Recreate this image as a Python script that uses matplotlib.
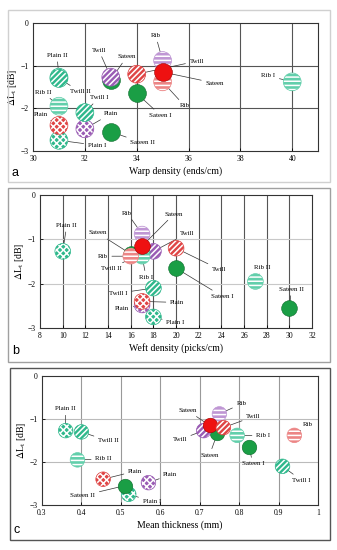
import matplotlib
matplotlib.use("Agg")
import matplotlib.pyplot as plt
from matplotlib.patches import Rectangle

plt.rcParams['font.family'] = ['Liberation Serif', 'DejaVu Serif']
plt.rcParams['mathtext.fontset'] = 'stix'
plt.rcParams['hatch.color'] = 'white'
plt.rcParams['hatch.linewidth'] = 1.1

# 16 fabrics: 8 teal/green, 4 red, 4 purple
names = ['Plain I', 'Plain II', 'Twill I', 'Twill II', 'Rib I', 'Rib II', 'Sateen I', 'Sateen II',
         'Plain', 'Twill', 'Rib', 'Sateen',
         'Plain', 'Twill', 'Rib', 'Sateen']
group = ['teal'] * 8 + ['red'] * 4 + ['purple'] * 4
weave = ['Plain', 'Plain', 'Twill', 'Twill', 'Rib', 'Rib', 'Sateen', 'Sateen',
         'Plain', 'Twill', 'Rib', 'Sateen',
         'Plain', 'Twill', 'Rib', 'Sateen']
delta_l = [-2.75, -1.27, -2.1, -1.3, -1.38, -1.95, -1.65, -2.55,
           -2.4, -1.2, -1.38, -1.15,
           -2.48, -1.27, -0.88, -1.33]
warp = [31, 31, 32, 31, 40, 31, 34, 33,
        31, 34, 35, 35,
        32, 33, 35, 33]
weft = [18, 10, 18, 17, 17, 27, 20, 30,
        17, 20, 16, 17,
        17, 18, 17, 16]
thickness = [0.52, 0.36, 0.91, 0.40, 0.795, 0.39, 0.825, 0.51,
             0.455, 0.76, 0.94, 0.725,
             0.57, 0.71, 0.75, 0.745]

# drawing order (back to front)
order = [12, 15, 14, 13, 1, 3, 5, 4, 2, 0, 6, 7, 8, 10, 11, 9]

colors = {'teal': '#2fb88c', 'red': '#df4545', 'purple': '#9a5cb4'}
rib_colors = {'teal': '#62cfab', 'red': '#ec8585', 'purple': '#bf96d4'}
hatches = {'Plain': 'xxxxx', 'Twill': '//////', 'Rib': '----'}

# label offsets in pixels (dx, dy up), per panel, by fabric index
offs_a = {1: (-2, 22), 3: (21, -13), 5: (-16, 14), 2: (14, 15), 8: (-18, 11), 12: (26, 15),
          0: (38, -5), 7: (32, -11), 6: (24, -22), 13: (-12, 27), 15: (16, 23), 14: (-7, 25),
          9: (60, 13), 11: (52, -11), 10: (22, -24), 4: (-24, 6)}
offs_b = {1: (4, 26), 14: (-15, 21), 11: (32, 32), 15: (-33, 21), 13: (34, 18), 10: (-28, 0),
          3: (-31, -16), 4: (4, -21), 9: (43, -21), 6: (46, -28), 5: (7, 14), 7: (2, 19),
          2: (-35, -5), 8: (35, -1), 12: (-20, -4), 0: (22, -6)}
offs_c = {1: (0, 22), 3: (27, -9), 5: (26, 1), 8: (32, 8), 7: (-42, -10), 0: (23, -7),
          12: (22, 8), 14: (22, 10), 11: (-22, 15), 9: (30, 11), 13: (-24, -9),
          15: (-8, -22), 4: (26, 0), 6: (4, -17), 10: (14, 11), 2: (19, -14)}

fig = plt.figure(figsize=(3.37, 5.5), dpi=100)

panels = [
    dict(x=warp, pos=[0.098, 0.7255, 0.846, 0.2327], xlim=(30, 41), xticks=range(30, 41, 2),
         xlabel='Warp density (ends/cm)', letter='a', s=165, offs=offs_a,
         box=[0.024, 0.669, 0.955, 0.3127], lab=(0.035, 0.675), vcol='#555555', hcol='#555555',
         boxcol='#d0d0d0', fmt=lambda v: '%d' % v),
    dict(x=weft, pos=[0.119, 0.4036, 0.807, 0.2418], xlim=(8, 32), xticks=range(8, 33, 2),
         xlabel='Weft density (picks/cm)', letter='b', s=128, offs=offs_b,
         box=[0.024, 0.3418, 0.955, 0.316], lab=(0.035, 0.350), vcol='#555555', hcol='#c8c8c8',
         boxcol='#a0a0a0', fmt=lambda v: '%d' % v),
    dict(x=thickness, pos=[0.1246, 0.0818, 0.819, 0.2345], xlim=(0.3, 1.0),
         xticks=[0.3, 0.4, 0.5, 0.6, 0.7, 0.8, 0.9, 1.0],
         xlabel='Mean thickness (mm)', letter='c', s=110, offs=offs_c,
         box=[0.030, 0.018, 0.950, 0.3127], lab=(0.040, 0.025), vcol='#999999', hcol='#bbbbbb',
         boxcol='#555555', fmt=lambda v: ('%g' % v)),
]

for p in panels:
    fig.patches.append(Rectangle((p['box'][0], p['box'][1]), p['box'][2], p['box'][3],
                                 transform=fig.transFigure, fill=False,
                                 edgecolor=p['boxcol'], linewidth=1.0))
    ax = fig.add_axes(p['pos'])
    ax.set_xlim(*p['xlim'])
    ax.set_ylim(-3, 0)
    ax.set_xticks(list(p['xticks']))
    ax.set_xticklabels([p['fmt'](v) for v in p['xticks']])
    ax.set_yticks([0, -1, -2, -3])
    ax.tick_params(labelsize=5.5, length=2, width=0.6, direction='in', pad=3)
    for v in list(p['xticks'])[1:]:
        if v < p['xlim'][1]:
            ax.axvline(v, color=p['vcol'], linewidth=0.8, zorder=0)
    for h in [-1, -2]:
        ax.axhline(h, color=p['hcol'], linewidth=0.8, zorder=0)
    for sp in ax.spines.values():
        sp.set_linewidth(0.8)
        sp.set_color('#333333')
    ax.set_xlabel(p['xlabel'], fontsize=7, labelpad=2)
    ax.set_ylabel(r'$\Delta$L$_\mathrm{t}$ [dB]', fontsize=7, labelpad=1)

    xs = p['x']
    for k, i in enumerate(order):
        g = group[i]
        w = weave[i]
        if w == 'Sateen':
            fc = '#ee1111' if g == 'red' else '#1a9e45'
            ax.scatter([xs[i]], [delta_l[i]], s=p['s'], facecolors=fc,
                       edgecolors='#0d6b2c' if g != 'red' else '#a00000',
                       linewidths=0.4, zorder=3 + k * 0.01)
        else:
            fc = rib_colors[g] if w == 'Rib' else colors[g]
            ax.scatter([xs[i]], [delta_l[i]], s=p['s'], facecolors=fc, edgecolors='white',
                       linewidths=0.0, hatch=hatches[w], zorder=3 + k * 0.01)
            ax.scatter([xs[i]], [delta_l[i]], s=p['s'], facecolors='none',
                       edgecolors=fc, linewidths=0.5, zorder=3 + k * 0.01 + 0.001)
        dx, dy = p['offs'][i]
        ax.annotate(names[i], xy=(xs[i], delta_l[i]), xytext=(dx, dy),
                    textcoords='offset pixels', fontsize=5, ha='center', va='center',
                    arrowprops=dict(arrowstyle='-', color='#333333', linewidth=0.5,
                                    shrinkA=1, shrinkB=0),
                    zorder=2, annotation_clip=False)

    fig.text(p['lab'][0], p['lab'][1], p['letter'], fontsize=9, family='Liberation Sans',
             ha='left', va='bottom')

fig.savefig('out.png', dpi=100)
